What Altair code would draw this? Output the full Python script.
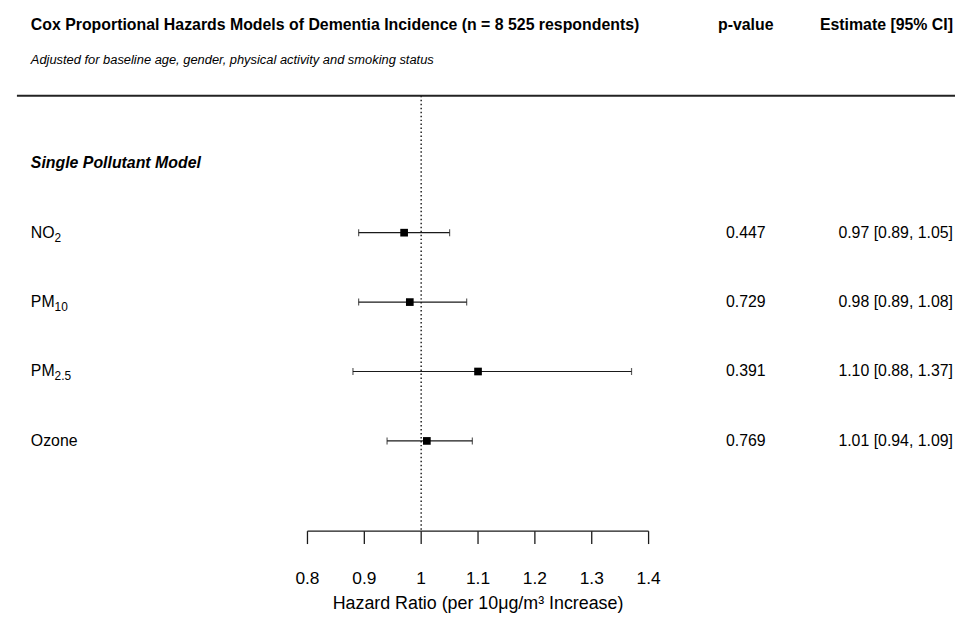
import altair as alt
import pandas as pd

# ---- data ----
label_main = ["NO", "PM", "PM", "Ozone"]
label_sub = ["2", "10", "2.5", ""]
estimate = [0.97, 0.98, 1.10, 1.01]
lower = [0.89, 0.89, 0.88, 0.94]
upper = [1.05, 1.08, 1.37, 1.09]
p_value = ["0.447", "0.729", "0.391", "0.769"]
tick_values = [0.8, 0.9, 1.0, 1.1, 1.2, 1.3, 1.4]
tick_labels = ["0.8", "0.9", "1", "1.1", "1.2", "1.3", "1.4"]
section_label = "Single Pollutant Model"
title_text = "Cox Proportional Hazards Models of Dementia Incidence (n = 8 525 respondents)"
subtitle_text = "Adjusted for baseline age, gender, physical activity and smoking status"
p_header = "p-value"
est_header = "Estimate [95% CI]"
axis_title = "Hazard Ratio (per 10\u03bcg/m\u00b3 Increase)"

rows = list(range(2, 2 + len(label_main)))
df = pd.DataFrame({
    "row": rows,
    "main": label_main,
    "sub": label_sub,
    "est": estimate,
    "lo": lower,
    "hi": upper,
    "p": p_value,
    "ci": [f"{e:.2f} [{l:.2f}, {h:.2f}]" for e, l, h in zip(estimate, lower, upper)],
})
ticks = pd.DataFrame({"v": tick_values, "lab": tick_labels})
section = pd.DataFrame({"row": [1], "lab": [section_label]})

W, H = 955, 610
FONT = "Liberation Sans"
px_per_unit = 344 / 0.6
x0 = 0.8 - 302 / px_per_unit
x1 = x0 + W / px_per_unit
xs = alt.Scale(domain=[x0, x1], range=[0, W], nice=False, zero=False)
ppr = 70.0
y0 = -84 / ppr
ys = alt.Scale(domain=[y0, y0 + H / ppr], range=[0, H], nice=False, zero=False)

LINE = "#1a1a1a"
LEFT = 23
PCOL = 744
ECOL = 953
HEAD_Y = 15
base = alt.Chart(df)


def txt(text, x, y, size=16, weight="normal", style="normal", align="left"):
    return alt.Chart(pd.DataFrame({"t": [text]})).mark_text(
        font=FONT, fontSize=size, fontWeight=weight, fontStyle=style,
        align=align, baseline="middle", color="black"
    ).encode(x=alt.value(x), y=alt.value(y), text="t:N")


top_rule = alt.Chart(pd.DataFrame({"a": [0]})).mark_rule(color="#222222", strokeWidth=2).encode(
    x=alt.value(9), x2=alt.value(W), y=alt.value(86))
ref_line = alt.Chart(pd.DataFrame({"v": [1.0]})).mark_rule(
    color="#222222", strokeWidth=1.5, strokeDash=[1.5, 2.5]).encode(
    x=alt.X("v:Q", scale=xs, axis=None), y=alt.value(86), y2=alt.value(525))
ci = base.mark_rule(color=LINE, strokeWidth=1.2).encode(
    x=alt.X("lo:Q", scale=xs, axis=None), x2="hi:Q", y=alt.Y("row:Q", scale=ys, axis=None))
cap_lo = base.mark_tick(color=LINE, orient="vertical", size=7, thickness=1.2).encode(
    x=alt.X("lo:Q", scale=xs, axis=None), y=alt.Y("row:Q", scale=ys, axis=None))
cap_hi = base.mark_tick(color=LINE, orient="vertical", size=7, thickness=1.2).encode(
    x=alt.X("hi:Q", scale=xs, axis=None), y=alt.Y("row:Q", scale=ys, axis=None))
pts = base.mark_square(color="black", size=60, opacity=1).encode(
    x=alt.X("est:Q", scale=xs, axis=None), y=alt.Y("row:Q", scale=ys, axis=None))

axis_line = alt.Chart(pd.DataFrame({"a": [tick_values[0]], "b": [tick_values[-1]]})).mark_rule(
    color=LINE, strokeWidth=1.3).encode(x=alt.X("a:Q", scale=xs, axis=None), x2="b:Q", y=alt.value(525))
axis_ticks = alt.Chart(ticks).mark_rule(color=LINE, strokeWidth=1.3).encode(
    x=alt.X("v:Q", scale=xs, axis=None), y=alt.value(525), y2=alt.value(538))
axis_labels = alt.Chart(ticks).mark_text(font=FONT, fontSize=17.5, baseline="middle", color="black").encode(
    x=alt.X("v:Q", scale=xs, axis=None), y=alt.value(573), text="lab:N")
axis_ttl = alt.Chart(pd.DataFrame({"v": [1.1], "t": [axis_title]})).mark_text(
    font=FONT, fontSize=18, baseline="middle", color="black").encode(
    x=alt.X("v:Q", scale=xs, axis=None), y=alt.value(599), text="t:N")

lab_main = base.mark_text(font=FONT, fontSize=16, align="left", baseline="middle", color="black").encode(
    x=alt.value(LEFT), y=alt.Y("row:Q", scale=ys, axis=None), text="main:N")
lab_sub = base.mark_text(font=FONT, fontSize=12, align="left", baseline="middle", color="black", dy=5).encode(
    x=alt.value(LEFT + 24), y=alt.Y("row:Q", scale=ys, axis=None), text="sub:N")
sec = alt.Chart(section).mark_text(font=FONT, fontSize=16, fontWeight="bold", fontStyle="italic",
                                   align="left", baseline="middle", color="black").encode(
    x=alt.value(LEFT), y=alt.Y("row:Q", scale=ys, axis=None), text="lab:N")
pcol = base.mark_text(font=FONT, fontSize=16, align="center", baseline="middle", color="black").encode(
    x=alt.value(PCOL), y=alt.Y("row:Q", scale=ys, axis=None), text="p:N")
ecol = base.mark_text(font=FONT, fontSize=16, align="right", baseline="middle", color="black").encode(
    x=alt.value(ECOL), y=alt.Y("row:Q", scale=ys, axis=None), text="ci:N")

title = txt(title_text, LEFT, HEAD_Y, size=16, weight="bold")
subtitle = txt(subtitle_text, LEFT, 50, size=13, style="italic")
phead = txt(p_header, PCOL, HEAD_Y, size=16, weight="bold", align="center")
ehead = txt(est_header, ECOL, HEAD_Y, size=16, weight="bold", align="right")

chart = alt.layer(
    top_rule, ref_line, ci, cap_lo, cap_hi, pts,
    axis_line, axis_ticks, axis_labels, axis_ttl,
    lab_main, lab_sub, sec, pcol, ecol,
    title, subtitle, phead, ehead,
).properties(width=W, height=H, padding=0, autosize=alt.AutoSizeParams(type="none")).configure_view(stroke=None)

chart.save("out.html", embed_options={"renderer": "svg", "actions": False})
